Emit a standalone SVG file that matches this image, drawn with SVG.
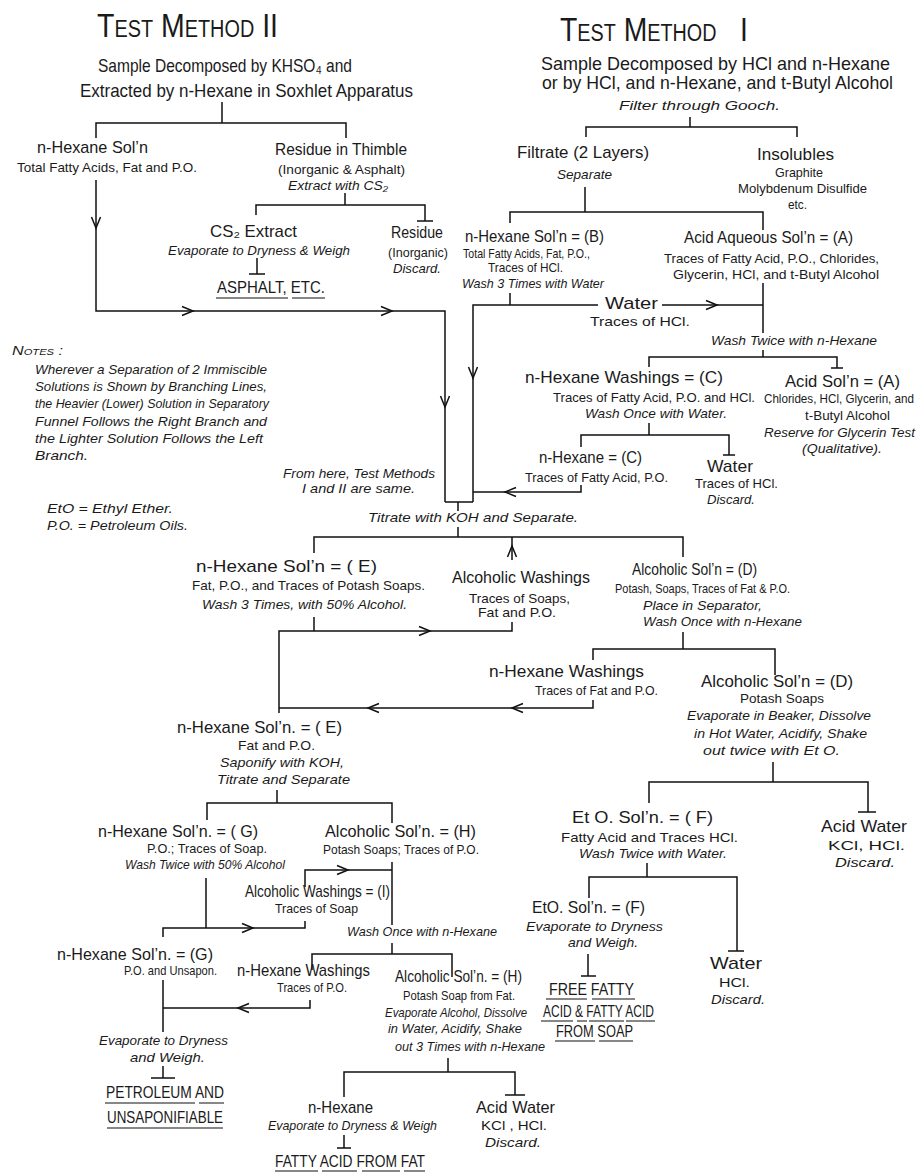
<svg xmlns="http://www.w3.org/2000/svg" xmlns:xlink="http://www.w3.org/1999/xlink" width="924" height="1172" viewBox="0 0 924 1172">
<style>
text{font-family:"Liberation Sans",Arial,"DejaVu Sans",sans-serif;fill:#1a1a1a}
.ttl{font-size:33px;font-variant:small-caps}
.t0{font-size:19px}
.t1{font-size:17px}
.t2{font-size:13px}
.ti{font-size:13px;font-style:italic}
.ln{fill:none;stroke:#111;stroke-width:1.5}
.ul{fill:none;stroke:#111;stroke-width:1.2}
</style>
<defs>
<path id="ah" d="M-4.5,-11 L0,0 L4.5,-11" fill="none" stroke="#111" stroke-width="1.5"/>
</defs>
<rect width="924" height="1172" fill="#fff"/>

<g id="connectors">
<path class="ln" d="M222,102 V123 M96,138 V123 H346 V138"/>
<path class="ln" d="M96,180 V311 H445 V502"/>
<path class="ln" d="M345,193 V205 M256,215 V205 H425 V221 M417,221 H433"/>
<path class="ln" d="M257,258 V274 M249,274 H265"/>
<path class="ln" d="M690,117 V127 M586,137 V127 H797 V137"/>
<path class="ln" d="M585,187 V212 M510,223 V212 H763 V230"/>
<path class="ln" d="M510,293 V305 M473,502 V305 H598 M662,305 H763"/>
<path class="ln" d="M763,283 V333 M763,350 V357 M649,367 V357 H837 V368 M831,368 H843"/>
<path class="ln" d="M649,423 V435 M581,447 V435 H729 V455 M723,455 H735"/>
<path class="ln" d="M581,485 V492 H473"/>
<path class="ln" d="M445,502 H473 M458,502 V511 M458,527 V537"/>
<path class="ln" d="M314,553 V537 H683 V557 M512,560 V537"/>
<path class="ln" d="M314,617 V631 M279,713 V631 H512 V622"/>
<path class="ln" d="M683,632 V649 M593,660 V649 H775 V675"/>
<path class="ln" d="M593,700 V708 H279"/>
<path class="ln" d="M773,762 V782 M649,803 V782 H868 V812 M858,812 H876"/>
<path class="ln" d="M647,863 V877 M589,898 V877 H737 V951 M728,951 H744"/>
<path class="ln" d="M588,954 V976 M581,976 H596"/>
<path class="ln" d="M277,790 V803 M207,820 V803 H392 V823"/>
<path class="ln" d="M392,862 V925 M392,943 V954 M305,887 V870 H392"/>
<path class="ln" d="M206,878 V928 M305,921 V928 H163 V937"/>
<path class="ln" d="M163,980 V1032 M163,1066 V1078 M151,1078 H175"/>
<path class="ln" d="M163,1008 H310 V1000"/>
<path class="ln" d="M312,970 V954 H452 V977"/>
<path class="ln" d="M448,1058 V1072 M344,1097 V1072 H515 V1095 M505,1095 H525"/>
<path class="ln" d="M344,1135 V1148 M337,1148 H351"/>
<use xlink:href="#ah" transform="translate(96,228)"/>
<use xlink:href="#ah" transform="translate(193,311) rotate(-90)"/>
<use xlink:href="#ah" transform="translate(392,311) rotate(-90)"/>
<use xlink:href="#ah" transform="translate(445,407)"/>
<use xlink:href="#ah" transform="translate(473,378)"/>
<use xlink:href="#ah" transform="translate(717,305) rotate(-90)"/>
<use xlink:href="#ah" transform="translate(505,492) rotate(90)"/>
<use xlink:href="#ah" transform="translate(512,546) rotate(180)"/>
<use xlink:href="#ah" transform="translate(430,631) rotate(-90)"/>
<use xlink:href="#ah" transform="translate(368,708) rotate(90)"/>
<use xlink:href="#ah" transform="translate(512,708) rotate(90)"/>
<use xlink:href="#ah" transform="translate(348,870) rotate(-90)"/>
<use xlink:href="#ah" transform="translate(253,928) rotate(-90)"/>
<use xlink:href="#ah" transform="translate(238,1008) rotate(90)"/>
</g>

<g id="title-method2">
<text class="ttl" x="97" y="37" textLength="181" lengthAdjust="spacingAndGlyphs">Test Method II</text>
<text class="t0" x="98" y="72" textLength="254" lengthAdjust="spacingAndGlyphs">Sample Decomposed by KHSO₄ and</text>
<text class="t0" x="80" y="97" textLength="333" lengthAdjust="spacingAndGlyphs">Extracted by n-Hexane in Soxhlet Apparatus</text>
</g>
<g id="node-hexane-soln">
<text class="t1" x="37" y="153" textLength="111" lengthAdjust="spacingAndGlyphs">n-Hexane Sol’n</text>
<text class="t2" x="17" y="172" textLength="180" lengthAdjust="spacingAndGlyphs">Total Fatty Acids, Fat and P.O.</text>
</g>
<g id="node-residue-thimble">
<text class="t1" x="275" y="155" textLength="132" lengthAdjust="spacingAndGlyphs">Residue in Thimble</text>
<text class="t2" x="278" y="174" textLength="127" lengthAdjust="spacingAndGlyphs">(Inorganic &amp; Asphalt)</text>
<text class="ti" x="288" y="190" textLength="100" lengthAdjust="spacingAndGlyphs">Extract with CS₂</text>
</g>
<g id="node-cs2-extract">
<text class="t1" x="210" y="237" textLength="87" lengthAdjust="spacingAndGlyphs">CS₂ Extract</text>
<text class="ti" x="168" y="255" textLength="182" lengthAdjust="spacingAndGlyphs">Evaporate to Dryness &amp; Weigh</text>
</g>
<g id="node-asphalt">
<text class="t1" x="217" y="293" textLength="108" lengthAdjust="spacingAndGlyphs">ASPHALT, ETC.</text>
<path class="ul" d="M216,298 H288 M292,298 H325"/>
</g>
<g id="node-residue">
<text class="t1" x="391" y="238" textLength="52" lengthAdjust="spacingAndGlyphs">Residue</text>
<text class="t2" x="388" y="257" textLength="60" lengthAdjust="spacingAndGlyphs">(Inorganic)</text>
<text class="ti" x="393" y="273" textLength="48" lengthAdjust="spacingAndGlyphs">Discard.</text>
</g>

<g id="title-method1">
<text class="ttl" x="560" y="41" textLength="188" lengthAdjust="spacingAndGlyphs">Test Method&#160;&#160; I</text>
<text class="t0" x="541" y="70" textLength="349" lengthAdjust="spacingAndGlyphs">Sample Decomposed by HCl and n-Hexane</text>
<text class="t0" x="542" y="89" textLength="351" lengthAdjust="spacingAndGlyphs">or by HCl, and n-Hexane, and t-Butyl Alcohol</text>
<text class="ti" x="619" y="110" textLength="161" lengthAdjust="spacingAndGlyphs">Filter through Gooch.</text>
</g>
<g id="node-filtrate">
<text class="t1" x="517" y="158" textLength="132" lengthAdjust="spacingAndGlyphs">Filtrate (2 Layers)</text>
<text class="ti" x="557" y="179" textLength="55" lengthAdjust="spacingAndGlyphs">Separate</text>
</g>
<g id="node-insolubles">
<text class="t1" x="757" y="160" textLength="77" lengthAdjust="spacingAndGlyphs">Insolubles</text>
<text class="t2" x="775" y="177" textLength="48" lengthAdjust="spacingAndGlyphs">Graphite</text>
<text class="t2" x="738" y="193" textLength="129" lengthAdjust="spacingAndGlyphs">Molybdenum Disulfide</text>
<text class="t2" x="788" y="209" textLength="19" lengthAdjust="spacingAndGlyphs">etc.</text>
</g>
<g id="node-hexane-b">
<text class="t1" x="465" y="242" textLength="139" lengthAdjust="spacingAndGlyphs">n-Hexane Sol’n = (B)</text>
<text class="t2" x="463" y="258" textLength="127" lengthAdjust="spacingAndGlyphs">Total Fatty Acids, Fat, P.O.,</text>
<text class="t2" x="488" y="272" textLength="75" lengthAdjust="spacingAndGlyphs">Traces of HCl.</text>
<text class="ti" x="462" y="288" textLength="142" lengthAdjust="spacingAndGlyphs">Wash 3 Times with Water</text>
</g>
<g id="node-acid-aqueous-a">
<text class="t1" x="684" y="243" textLength="169" lengthAdjust="spacingAndGlyphs">Acid Aqueous Sol’n = (A)</text>
<text class="t2" x="664" y="263" textLength="215" lengthAdjust="spacingAndGlyphs">Traces of Fatty Acid, P.O., Chlorides,</text>
<text class="t2" x="673" y="279" textLength="206" lengthAdjust="spacingAndGlyphs">Glycerin, HCl, and t-Butyl Alcohol</text>
<text class="ti" x="711" y="345" textLength="166" lengthAdjust="spacingAndGlyphs">Wash Twice with n-Hexane</text>
</g>
<g id="node-water-b">
<text class="t1" x="605" y="309" textLength="53" lengthAdjust="spacingAndGlyphs">Water</text>
<text class="t2" x="590" y="326" textLength="100" lengthAdjust="spacingAndGlyphs">Traces of HCl.</text>
</g>
<g id="node-hexane-washings-c">
<text class="t1" x="525" y="383" textLength="198" lengthAdjust="spacingAndGlyphs">n-Hexane Washings = (C)</text>
<text class="t2" x="553" y="402" textLength="202" lengthAdjust="spacingAndGlyphs">Traces of Fatty Acid, P.O. and HCl.</text>
<text class="ti" x="585" y="418" textLength="142" lengthAdjust="spacingAndGlyphs">Wash Once with Water.</text>
</g>
<g id="node-acid-soln-a">
<text class="t1" x="785" y="387" textLength="115" lengthAdjust="spacingAndGlyphs">Acid Sol’n = (A)</text>
<text class="t2" x="764" y="403" font-size="10.2" textLength="150" lengthAdjust="spacingAndGlyphs">Chlorides, HCl, Glycerin, and</text>
<text class="t2" x="805" y="420" textLength="85" lengthAdjust="spacingAndGlyphs">t-Butyl Alcohol</text>
<text class="ti" x="764" y="437" textLength="151" lengthAdjust="spacingAndGlyphs">Reserve for Glycerin Test</text>
<text class="ti" x="802" y="453" textLength="80" lengthAdjust="spacingAndGlyphs">(Qualitative).</text>
</g>
<g id="node-hexane-c">
<text class="t1" x="539" y="463" textLength="103" lengthAdjust="spacingAndGlyphs">n-Hexane = (C)</text>
<text class="t2" x="525" y="482" textLength="143" lengthAdjust="spacingAndGlyphs">Traces of Fatty Acid, P.O.</text>
</g>
<g id="node-water-c">
<text class="t1" x="707" y="472" textLength="46" lengthAdjust="spacingAndGlyphs">Water</text>
<text class="t2" x="695" y="488" textLength="83" lengthAdjust="spacingAndGlyphs">Traces of HCl.</text>
<text class="ti" x="707" y="504" textLength="48" lengthAdjust="spacingAndGlyphs">Discard.</text>
</g>

<g id="notes">
<text class="ti" x="12" y="355" font-size="16" font-variant="small-caps" textLength="51" lengthAdjust="spacingAndGlyphs">Notes :</text>
<text class="ti" x="35" y="374" textLength="232" lengthAdjust="spacingAndGlyphs">Wherever a Separation of 2 Immiscible</text>
<text class="ti" x="35" y="391" textLength="232" lengthAdjust="spacingAndGlyphs">Solutions is Shown by Branching Lines,</text>
<text class="ti" x="35" y="408" textLength="234" lengthAdjust="spacingAndGlyphs">the Heavier (Lower) Solution in Separatory</text>
<text class="ti" x="35" y="426" textLength="232" lengthAdjust="spacingAndGlyphs">Funnel Follows the Right Branch and</text>
<text class="ti" x="35" y="443" textLength="228" lengthAdjust="spacingAndGlyphs">the Lighter Solution Follows the Left</text>
<text class="ti" x="35" y="460" textLength="53" lengthAdjust="spacingAndGlyphs">Branch.</text>
<text class="ti" x="47" y="513" textLength="126" lengthAdjust="spacingAndGlyphs">EtO = Ethyl  Ether.</text>
<text class="ti" x="47" y="530" textLength="141" lengthAdjust="spacingAndGlyphs">P.O. = Petroleum  Oils.</text>
</g>
<g id="label-from-here">
<text class="ti" x="283" y="478" textLength="152" lengthAdjust="spacingAndGlyphs">From here, Test Methods</text>
<text class="ti" x="302" y="493" textLength="113" lengthAdjust="spacingAndGlyphs">I and II are same.</text>
<text class="ti" x="368" y="522" textLength="210" lengthAdjust="spacingAndGlyphs">Titrate with KOH and Separate.</text>
</g>

<g id="node-hexane-e">
<text class="t1" x="196" y="572" textLength="181" lengthAdjust="spacingAndGlyphs">n-Hexane  Sol’n = ( E)</text>
<text class="t2" x="192" y="590" textLength="233" lengthAdjust="spacingAndGlyphs">Fat, P.O., and Traces of Potash Soaps.</text>
<text class="ti" x="202" y="609" textLength="205" lengthAdjust="spacingAndGlyphs">Wash 3 Times, with 50% Alcohol.</text>
</g>
<g id="node-alcoholic-washings">
<text class="t1" x="452" y="583" textLength="138" lengthAdjust="spacingAndGlyphs">Alcoholic Washings</text>
<text class="t2" x="469" y="603" textLength="101" lengthAdjust="spacingAndGlyphs">Traces of Soaps,</text>
<text class="t2" x="478" y="617" textLength="78" lengthAdjust="spacingAndGlyphs">Fat and P.O.</text>
</g>
<g id="node-alcoholic-d">
<text class="t1" x="632" y="575" textLength="125" lengthAdjust="spacingAndGlyphs">Alcoholic Sol’n = (D)</text>
<text class="t2" x="615" y="593" textLength="175" lengthAdjust="spacingAndGlyphs">Potash, Soaps, Traces of Fat &amp; P.O.</text>
<text class="ti" x="643" y="610" textLength="119" lengthAdjust="spacingAndGlyphs">Place in Separator,</text>
<text class="ti" x="643" y="626" textLength="159" lengthAdjust="spacingAndGlyphs">Wash Once with n-Hexane</text>
</g>
<g id="node-hexane-washings-d">
<text class="t1" x="489" y="677" textLength="155" lengthAdjust="spacingAndGlyphs">n-Hexane  Washings</text>
<text class="t2" x="535" y="695" textLength="123" lengthAdjust="spacingAndGlyphs">Traces of Fat and P.O.</text>
</g>
<g id="node-alcoholic-d2">
<text class="t1" x="701" y="687" textLength="152" lengthAdjust="spacingAndGlyphs">Alcoholic Sol’n = (D)</text>
<text class="t2" x="740" y="703" textLength="84" lengthAdjust="spacingAndGlyphs">Potash Soaps</text>
<text class="ti" x="687" y="720" textLength="184" lengthAdjust="spacingAndGlyphs">Evaporate in Beaker, Dissolve</text>
<text class="ti" x="694" y="738" textLength="173" lengthAdjust="spacingAndGlyphs">in Hot Water, Acidify, Shake</text>
<text class="ti" x="703" y="755" textLength="137" lengthAdjust="spacingAndGlyphs">out twice with Et O.</text>
</g>
<g id="node-hexane-e2">
<text class="t1" x="177" y="733" textLength="165" lengthAdjust="spacingAndGlyphs">n-Hexane  Sol’n. = ( E)</text>
<text class="t2" x="238" y="750" textLength="77" lengthAdjust="spacingAndGlyphs">Fat and P.O.</text>
<text class="ti" x="220" y="767" textLength="124" lengthAdjust="spacingAndGlyphs">Saponify with KOH,</text>
<text class="ti" x="217" y="784" textLength="133" lengthAdjust="spacingAndGlyphs">Titrate and Separate</text>
</g>
<g id="node-eto-f">
<text class="t1" x="572" y="823" textLength="141" lengthAdjust="spacingAndGlyphs">Et O. Sol’n. = ( F)</text>
<text class="t2" x="561" y="842" textLength="177" lengthAdjust="spacingAndGlyphs">Fatty Acid and Traces HCl.</text>
<text class="ti" x="579" y="858" textLength="148" lengthAdjust="spacingAndGlyphs">Wash Twice with Water.</text>
</g>
<g id="node-acid-water-d">
<text class="t1" x="821" y="832" textLength="86" lengthAdjust="spacingAndGlyphs">Acid  Water</text>
<text class="t2" x="828" y="850" textLength="77" lengthAdjust="spacingAndGlyphs">KCl,  HCl.</text>
<text class="ti" x="835" y="867" textLength="60" lengthAdjust="spacingAndGlyphs">Discard.</text>
</g>
<g id="node-hexane-g">
<text class="t1" x="98" y="837" textLength="160" lengthAdjust="spacingAndGlyphs">n-Hexane  Sol’n. = ( G)</text>
<text class="t2" x="147" y="853" textLength="120" lengthAdjust="spacingAndGlyphs">P.O.; Traces of Soap.</text>
<text class="ti" x="125" y="869" textLength="160" lengthAdjust="spacingAndGlyphs">Wash Twice with 50% Alcohol</text>
</g>
<g id="node-alcoholic-h">
<text class="t1" x="325" y="837" textLength="151" lengthAdjust="spacingAndGlyphs">Alcoholic  Sol’n. = (H)</text>
<text class="t2" x="323" y="854" textLength="156" lengthAdjust="spacingAndGlyphs">Potash Soaps; Traces of P.O.</text>
</g>
<g id="node-alcoholic-washings-i">
<text class="t1" x="245" y="897" textLength="145" lengthAdjust="spacingAndGlyphs">Alcoholic Washings = (I)</text>
<text class="t2" x="275" y="913" textLength="83" lengthAdjust="spacingAndGlyphs">Traces of Soap</text>
<text class="ti" x="347" y="936" textLength="150" lengthAdjust="spacingAndGlyphs">Wash Once with n-Hexane</text>
</g>
<g id="node-hexane-g2">
<text class="t1" x="57" y="960" textLength="156" lengthAdjust="spacingAndGlyphs">n-Hexane  Sol’n. = (G)</text>
<text class="t2" x="124" y="975" textLength="93" lengthAdjust="spacingAndGlyphs">P.O. and Unsapon.</text>
<text class="ti" x="99" y="1045" textLength="129" lengthAdjust="spacingAndGlyphs">Evaporate to Dryness</text>
<text class="ti" x="130" y="1062" textLength="75" lengthAdjust="spacingAndGlyphs">and  Weigh.</text>
</g>
<g id="node-petroleum">
<text class="t1" x="106" y="1098" textLength="118" lengthAdjust="spacingAndGlyphs">PETROLEUM AND</text>
<text class="t1" x="107" y="1123" textLength="116" lengthAdjust="spacingAndGlyphs">UNSAPONIFIABLE</text>
<path class="ul" d="M105,1103 H195 M199,1103 H224 M107,1128 H223"/>
</g>
<g id="node-hexane-washings-h">
<text class="t1" x="237" y="976" textLength="133" lengthAdjust="spacingAndGlyphs">n-Hexane Washings</text>
<text class="t2" x="277" y="992" textLength="70" lengthAdjust="spacingAndGlyphs">Traces of P.O.</text>
</g>
<g id="node-alcoholic-h2">
<text class="t1" x="395" y="982" textLength="127" lengthAdjust="spacingAndGlyphs">Alcoholic Sol’n. = (H)</text>
<text class="t2" x="403" y="1000" textLength="112" lengthAdjust="spacingAndGlyphs">Potash Soap from Fat.</text>
<text class="ti" x="385" y="1017" textLength="142" lengthAdjust="spacingAndGlyphs">Evaporate Alcohol, Dissolve</text>
<text class="ti" x="388" y="1033" textLength="134" lengthAdjust="spacingAndGlyphs">in Water, Acidify, Shake</text>
<text class="ti" x="395" y="1051" textLength="150" lengthAdjust="spacingAndGlyphs">out 3 Times with n-Hexane</text>
</g>
<g id="node-hexane-final">
<text class="t1" x="308" y="1113" textLength="65" lengthAdjust="spacingAndGlyphs">n-Hexane</text>
<text class="ti" x="268" y="1130" textLength="169" lengthAdjust="spacingAndGlyphs">Evaporate to Dryness &amp; Weigh</text>
</g>
<g id="node-fatty-acid-from-fat">
<text class="t1" x="275" y="1167" textLength="150" lengthAdjust="spacingAndGlyphs">FATTY ACID FROM FAT</text>
<path class="ul" d="M275,1171 H318 M322,1171 H357 M362,1171 H400 M404,1171 H425"/>
</g>
<g id="node-acid-water-h">
<text class="t1" x="476" y="1113" textLength="79" lengthAdjust="spacingAndGlyphs">Acid Water</text>
<text class="t2" x="481" y="1130" textLength="66" lengthAdjust="spacingAndGlyphs">KCl , HCl.</text>
<text class="ti" x="485" y="1147" textLength="56" lengthAdjust="spacingAndGlyphs">Discard.</text>
</g>
<g id="node-eto-f2">
<text class="t1" x="532" y="913" textLength="113" lengthAdjust="spacingAndGlyphs">EtO. Sol’n. = (F)</text>
<text class="ti" x="526" y="931" textLength="137" lengthAdjust="spacingAndGlyphs">Evaporate to Dryness</text>
<text class="ti" x="568" y="947" textLength="70" lengthAdjust="spacingAndGlyphs">and Weigh.</text>
</g>
<g id="node-free-fatty-acid">
<text class="t1" x="549" y="995" textLength="85" lengthAdjust="spacingAndGlyphs">FREE FATTY</text>
<text class="t1" x="543" y="1017" textLength="111" lengthAdjust="spacingAndGlyphs">ACID &amp; FATTY ACID</text>
<text class="t1" x="556" y="1037" textLength="77" lengthAdjust="spacingAndGlyphs">FROM SOAP</text>
<path class="ul" d="M546,999 H587 M592,999 H635 M541,1021 H573 M577,1021 H587 M589,1021 H624 M626,1021 H655 M555,1041 H595 M599,1041 H633"/>
</g>
<g id="node-water-f">
<text class="t1" x="710" y="969" textLength="52" lengthAdjust="spacingAndGlyphs">Water</text>
<text class="t2" x="719" y="987" textLength="31" lengthAdjust="spacingAndGlyphs">HCl.</text>
<text class="ti" x="711" y="1004" textLength="54" lengthAdjust="spacingAndGlyphs">Discard.</text>
</g>
</svg>
